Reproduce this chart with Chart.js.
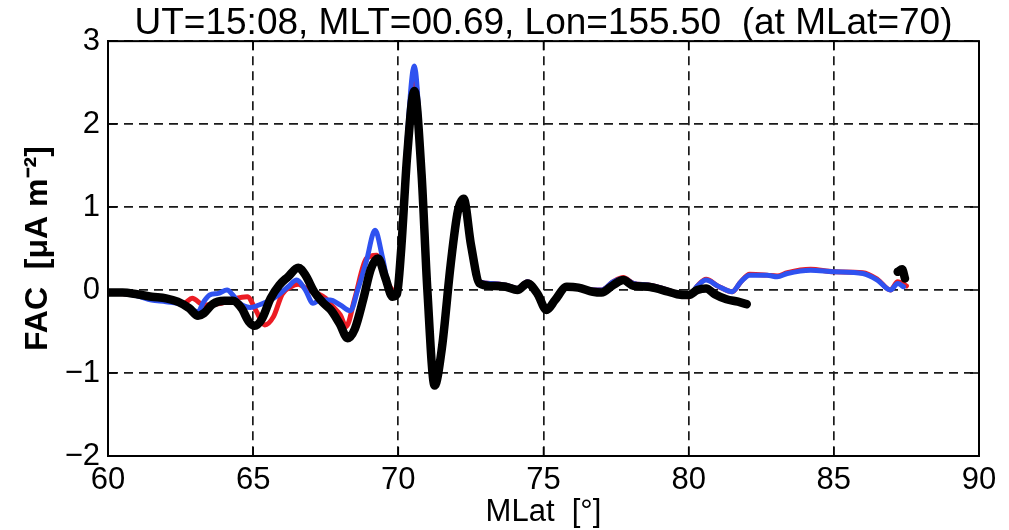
<!DOCTYPE html>
<html>
<head>
<meta charset="utf-8">
<script src="https://cdn.jsdelivr.net/npm/chart.js@4"></script>
<style>
  html, body { margin: 0; padding: 0; background: #fff; }
  #wrap { width: 1009px; height: 530px; }
</style>
</head>
<body>
<div id="wrap"><canvas id="chart"></canvas></div>
<script>
// --- datos ---
const titleText = "UT=15:08, MLT=00.69, Lon=155.50  (at MLat=70)";
const xTitle = "MLat  [°]";
const yTitle = "FAC  [μA m⁻²]";

const mlatRed = [60.0, 61.0, 61.5, 62.0, 62.6, 62.9, 63.3, 63.9, 64.4, 64.8, 65.1, 65.4, 65.7, 66.0, 66.3, 66.55, 66.9, 67.2, 67.5, 67.75, 68.0, 68.2, 68.5, 68.9, 69.25, 69.5, 69.75, 69.95, 70.1, 70.3, 70.55, 70.8, 71.0, 71.25, 71.5, 71.8, 72.05, 72.25, 72.5, 72.8, 73.2, 73.7, 74.1, 74.45, 74.8, 75.1, 75.4, 75.8, 76.2, 76.7, 77.0, 77.4, 77.75, 78.1, 78.6, 79.1, 79.6, 80.0, 80.3, 80.6, 81.0, 81.5, 81.8, 82.1, 82.7, 83.05, 83.4, 84.2, 85.0, 86.0, 86.5, 86.95, 87.2, 87.5];
const facRed = [-0.03, -0.06, -0.09, -0.12, -0.16, -0.1, -0.18, -0.16, -0.1, -0.08, -0.25, -0.42, -0.32, -0.05, 0.04, 0.07, 0.0, -0.04, -0.1, -0.2, -0.3, -0.44, -0.1, 0.38, 0.42, 0.2, 0.02, -0.03, 0.6, 1.75, 2.6, 1.5, 0.0, -1.12, -0.7, 0.3, 0.95, 1.1, 0.55, 0.1, 0.08, 0.06, 0.02, 0.1, -0.03, -0.22, -0.1, 0.05, 0.03, 0.0, 0.0, 0.1, 0.15, 0.08, 0.06, 0.02, -0.04, -0.08, 0.05, 0.13, 0.05, -0.02, 0.1, 0.19, 0.18, 0.17, 0.21, 0.25, 0.22, 0.21, 0.13, 0.0, 0.1, 0.05];

const mlatBlue = [60.0, 60.5, 61.0, 61.5, 62.0, 62.6, 62.9, 63.1, 63.3, 63.5, 63.8, 64.1, 64.3, 64.5, 64.9, 65.2, 65.6, 65.9, 66.2, 66.5, 66.8, 67.06, 67.3, 67.65, 68.0, 68.35, 68.6, 68.9, 69.2, 69.45, 69.7, 69.9, 70.1, 70.3, 70.55, 70.8, 71.0, 71.25, 71.5, 71.8, 72.05, 72.25, 72.5, 72.8, 73.2, 73.7, 74.1, 74.45, 74.8, 75.1, 75.4, 75.8, 76.2, 76.7, 77.0, 77.4, 77.75, 78.1, 78.6, 79.1, 79.6, 80.0, 80.3, 80.6, 81.0, 81.5, 81.8, 82.1, 82.7, 83.05, 83.4, 84.2, 85.0, 86.0, 86.5, 86.95, 87.2, 87.4];
const facBlue = [-0.03, -0.04, -0.07, -0.12, -0.14, -0.18, -0.24, -0.26, -0.14, -0.06, -0.04, 0.0, -0.06, -0.15, -0.21, -0.18, -0.12, -0.05, 0.04, 0.12, 0.0, -0.16, -0.12, -0.12, -0.18, -0.25, 0.0, 0.35, 0.72, 0.4, 0.0, -0.05, 0.6, 1.8, 2.7, 1.5, 0.0, -1.12, -0.7, 0.3, 0.95, 1.1, 0.55, 0.1, 0.08, 0.06, 0.02, 0.1, -0.03, -0.22, -0.1, 0.05, 0.03, 0.0, 0.0, 0.1, 0.14, 0.08, 0.06, 0.02, -0.04, -0.07, 0.05, 0.12, 0.05, -0.02, 0.1, 0.18, 0.18, 0.16, 0.2, 0.24, 0.22, 0.2, 0.12, 0.0, 0.08, 0.04];

const mlatBlack = [60.0, 60.5, 61.0, 61.5, 62.0, 62.4, 62.8, 63.1, 63.3, 63.6, 64.0, 64.3, 64.6, 64.85, 65.05, 65.3, 65.6, 65.9, 66.2, 66.55, 66.8, 67.1, 67.4, 67.7, 68.0, 68.25, 68.5, 68.8, 69.05, 69.3, 69.55, 69.8, 69.95, 70.1, 70.3, 70.55, 70.8, 71.0, 71.25, 71.5, 71.8, 72.05, 72.25, 72.5, 72.8, 73.2, 73.7, 74.1, 74.45, 74.8, 75.1, 75.4, 75.8, 76.2, 76.7, 77.0, 77.4, 77.75, 78.1, 78.6, 79.1, 79.6, 80.0, 80.3, 80.6, 80.9, 81.3, 81.7, 82.0, 84.0, 87.2, 87.35, 87.45];
const facBlack = [-0.03, -0.03, -0.05, -0.08, -0.1, -0.14, -0.22, -0.31, -0.28, -0.17, -0.13, -0.13, -0.22, -0.38, -0.43, -0.35, -0.1, 0.06, 0.16, 0.27, 0.18, -0.02, -0.15, -0.25, -0.42, -0.58, -0.47, -0.1, 0.25, 0.38, 0.15, -0.08, -0.05, 0.5, 1.6, 2.4, 1.4, 0.0, -1.15, -0.7, 0.3, 0.95, 1.1, 0.55, 0.08, 0.05, 0.04, 0.0, 0.08, -0.05, -0.24, -0.12, 0.04, 0.03, -0.02, -0.03, 0.06, 0.12, 0.05, 0.04, 0.0, -0.05, -0.06, 0.0, 0.02, -0.05, -0.11, -0.14, -0.17, null, 0.22, 0.25, 0.14];

const xTicks = [60, 65, 70, 75, 80, 85, 90];
const yTicks = [-2, -1, 0, 1, 2, 3];

const pares = (xs, ys) => xs.map((x, i) => ({ x: x, y: ys[i] }));

// --- marco y marcas hacia dentro (estilo MATLAB) ---
const marco = {
  id: "marco",
  afterDraw(chart) {
    const { ctx, chartArea: a, scales } = chart;
    ctx.save();
    ctx.strokeStyle = "#000";
    ctx.lineWidth = 2;
    ctx.strokeRect(a.left, a.top, a.right - a.left, a.bottom - a.top);
    ctx.beginPath();
    ctx.lineWidth = 1.5;
    xTicks.forEach(v => {
      const px = scales.x.getPixelForValue(v);
      ctx.moveTo(px, a.bottom); ctx.lineTo(px, a.bottom - 9);
      ctx.moveTo(px, a.top); ctx.lineTo(px, a.top + 9);
    });
    yTicks.forEach(v => {
      const py = scales.y.getPixelForValue(v);
      ctx.moveTo(a.left, py); ctx.lineTo(a.left + 9, py);
      ctx.moveTo(a.right, py); ctx.lineTo(a.right - 9, py);
    });
    ctx.stroke();
    ctx.restore();
  }
};

const fuente = "'Liberation Sans', Arial, Helvetica, sans-serif";
Chart.defaults.font.family = fuente;
Chart.defaults.color = "#000";

// order: el menor se dibuja encima
const linea = (data, color, width, orden) => ({
  data: data,
  borderColor: color,
  borderWidth: width,
  order: orden,
  pointRadius: 0,
  fill: false,
  cubicInterpolationMode: "monotone",
  borderCapStyle: "round",
  borderJoinStyle: "round",
  spanGaps: false
});

new Chart(document.getElementById("chart"), {
  type: "line",
  data: {
    datasets: [
      linea(pares(mlatRed, facRed), "#ec1c24", 5, 2),
      linea(pares(mlatBlue, facBlue), "#2f52f0", 5, 1),
      linea(pares(mlatBlack, facBlack), "#000000", 8.5, 0)
    ]
  },
  options: {
    responsive: true,
    maintainAspectRatio: false,
    animation: false,
    layout: { padding: { left: 0, right: 30, top: 0, bottom: 0 } },
    plugins: {
      legend: { display: false },
      tooltip: { enabled: false },
      title: {
        display: true,
        text: titleText,
        fullSize: false,
        font: { size: 37, weight: "normal", lineHeight: 0.95 },
        padding: { top: 6, bottom: 0 },
        color: "#000"
      }
    },
    scales: {
      x: {
        type: "linear",
        min: 60,
        max: 90,
        afterBuildTicks: s => { s.ticks = xTicks.map(v => ({ value: v })); },
        afterFit: s => { s.height = 74; },
        ticks: { font: { size: 31 }, padding: 6, color: "#000", maxRotation: 0 },
        grid: { color: "#1a1a1a", lineWidth: 1.7, drawTicks: false },
        border: { display: true, color: "#000", width: 2, dash: [9, 6] },
        title: { display: true, text: xTitle, font: { size: 31 }, padding: { top: 0, bottom: -1 } }
      },
      y: {
        min: -2,
        max: 3,
        afterBuildTicks: s => { s.ticks = yTicks.map(v => ({ value: v })); },
        afterFit: s => { s.width = 108; },
        ticks: {
          font: { size: 31 },
          padding: 8,
          color: "#000",
          callback: v => String(v).replace("-", "−")
        },
        grid: { color: "#1a1a1a", lineWidth: 1.7, drawTicks: false },
        border: { display: true, color: "#000", width: 2, dash: [9, 6] },
        title: { display: true, text: yTitle, font: { size: 32, weight: "bold" }, padding: { top: 19, bottom: 0 } }
      }
    }
  },
  plugins: [marco]
});
</script>
</body>
</html>
